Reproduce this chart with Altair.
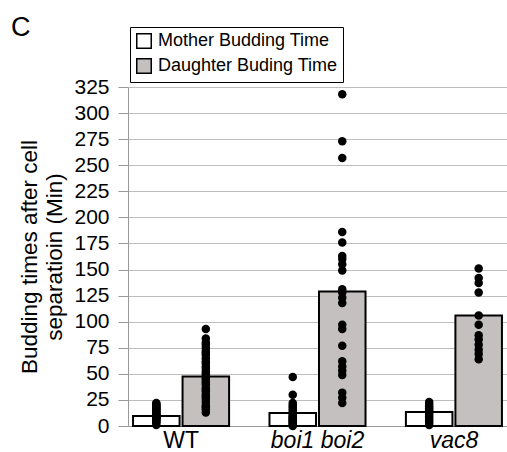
import altair as alt
import pandas as pd

FONT = "Liberation Sans, Arial, sans-serif"

panel_letter = "C"
groups = ["WT", "boi1 boi2", "vac8"]
series = ["Mother Budding Time", "Daughter Buding Time"]
y_ticks = [0, 25, 50, 75, 100, 125, 150, 175, 200, 225, 250, 275, 300, 325]

# bar heights (mean budding times, min)
mother_means = [9.5, 12.5, 13.5]
daughter_means = [47.5, 129, 106]

# individual cells
wt_mother = [1, 3, 4, 5, 6, 7, 8, 8, 9, 9, 10, 10, 11, 12, 13, 14, 15, 16, 17, 18, 19, 20, 21, 22]
wt_daughter = [13, 16, 18, 20, 23, 26, 28, 30, 33, 35, 37, 40, 42, 44, 46, 48, 50, 52, 55, 57,
               60, 62, 65, 68, 70, 72, 75, 78, 80, 84, 93]
boi_mother = [0, 1, 2, 3, 4, 5, 6, 7, 8, 9, 10, 12, 14, 16, 18, 20, 22, 30, 47]
boi_daughter = [318, 273, 257, 186, 176, 163, 160, 155, 149, 131, 128, 123, 118, 97, 93, 77,
                62, 57, 53, 49, 32, 27, 22]
vac8_mother = [1, 3, 5, 7, 9, 11, 13, 15, 17, 19, 21, 23]
vac8_daughter = [151, 142, 137, 128, 106, 97, 87, 83, 78, 73, 69, 64]

bar_rows = []
for g, m, d in zip(groups, mother_means, daughter_means):
    bar_rows.append({"group": g, "series": series[0], "value": m})
    bar_rows.append({"group": g, "series": series[1], "value": d})
bars_df = pd.DataFrame(bar_rows)

pt_rows = []
for g, ms, ds in zip(groups, [wt_mother, boi_mother, vac8_mother],
                     [wt_daughter, boi_daughter, vac8_daughter]):
    for v in ms:
        pt_rows.append({"group": g, "series": series[0], "value": v})
    for v in ds:
        pt_rows.append({"group": g, "series": series[1], "value": v})
pts_df = pd.DataFrame(pt_rows)

x_enc = alt.X(
    "group:N",
    sort=groups,
    scale=alt.Scale(paddingInner=0.296, paddingOuter=0.037),
    axis=alt.Axis(
        title=None,
        labelAngle=0,
        labelFontSize=23,
        labelFont=FONT,
        labelColor="black",
        labelFontStyle={"condition": {"test": "datum.value === 'WT'", "value": "normal"}, "value": "italic"},
        ticks=False,
        labelPadding=3,
        domainColor="#999999",
        domainWidth=1,
    ),
)
xoff_enc = alt.XOffset("series:N", sort=series, scale=alt.Scale(paddingInner=0.06, paddingOuter=0))
y_axis = alt.Axis(
    title=["Budding times after cell", "separatioin (Min)"],
    titleFontSize=22.5,
    titleFont=FONT,
    titleFontWeight="normal",
    titleColor="black",
    titleLineHeight=25,
    titlePadding=7,
    values=y_ticks,
    labelOverlap=False,
    labelFontSize=21,
    labelFont=FONT,
    labelColor="black",
    labelPadding=9,
    tickSize=10,
    tickColor="#999999",
    domainColor="#999999",
    gridColor="#bdbdbd",
    gridWidth=1,
)
y_enc = alt.Y("value:Q", scale=alt.Scale(domain=[0, 325], nice=False), axis=y_axis)

bars = alt.Chart(bars_df).mark_bar(stroke="black", strokeWidth=2).encode(
    x=x_enc,
    xOffset=xoff_enc,
    y=y_enc,
    fill=alt.Fill(
        "series:N",
        sort=series,
        scale=alt.Scale(domain=series, range=["white", "#c4c0c0"]),
        legend=alt.Legend(
            title=None,
            orient="none",
            legendX=2,
            legendY=-60,
            strokeColor="black",
            padding=5,
            labelFontSize=18,
            labelFont=FONT,
            labelColor="black",
            labelLimit=400,
            labelOffset=5,
            symbolType="square",
            symbolSize=210,
            symbolStrokeColor="black",
            symbolStrokeWidth=1.5,
            symbolOpacity=1,
            rowPadding=3,
        ),
    ),
)

points = alt.Chart(pts_df).mark_circle(color="black", size=72, opacity=1).encode(
    x=x_enc,
    xOffset=xoff_enc,
    y=y_enc,
)

letter = alt.Chart(pd.DataFrame({"t": [panel_letter]})).mark_text(
    font=FONT, fontSize=27, color="black", align="left", baseline="alphabetic"
).encode(text="t:N", x=alt.value(-117), y=alt.value(-51))

chart = (
    alt.layer(bars, points, letter)
    .properties(
        width=379,
        height=339,
        autosize=alt.AutoSizeParams(type="none"),
        padding={"left": 128, "top": 87, "right": 0, "bottom": 26},
    )
    .configure_view(stroke=None)
    .configure(background="white")
)

chart.save("out.html", embed_options={"renderer": "svg", "actions": False})
